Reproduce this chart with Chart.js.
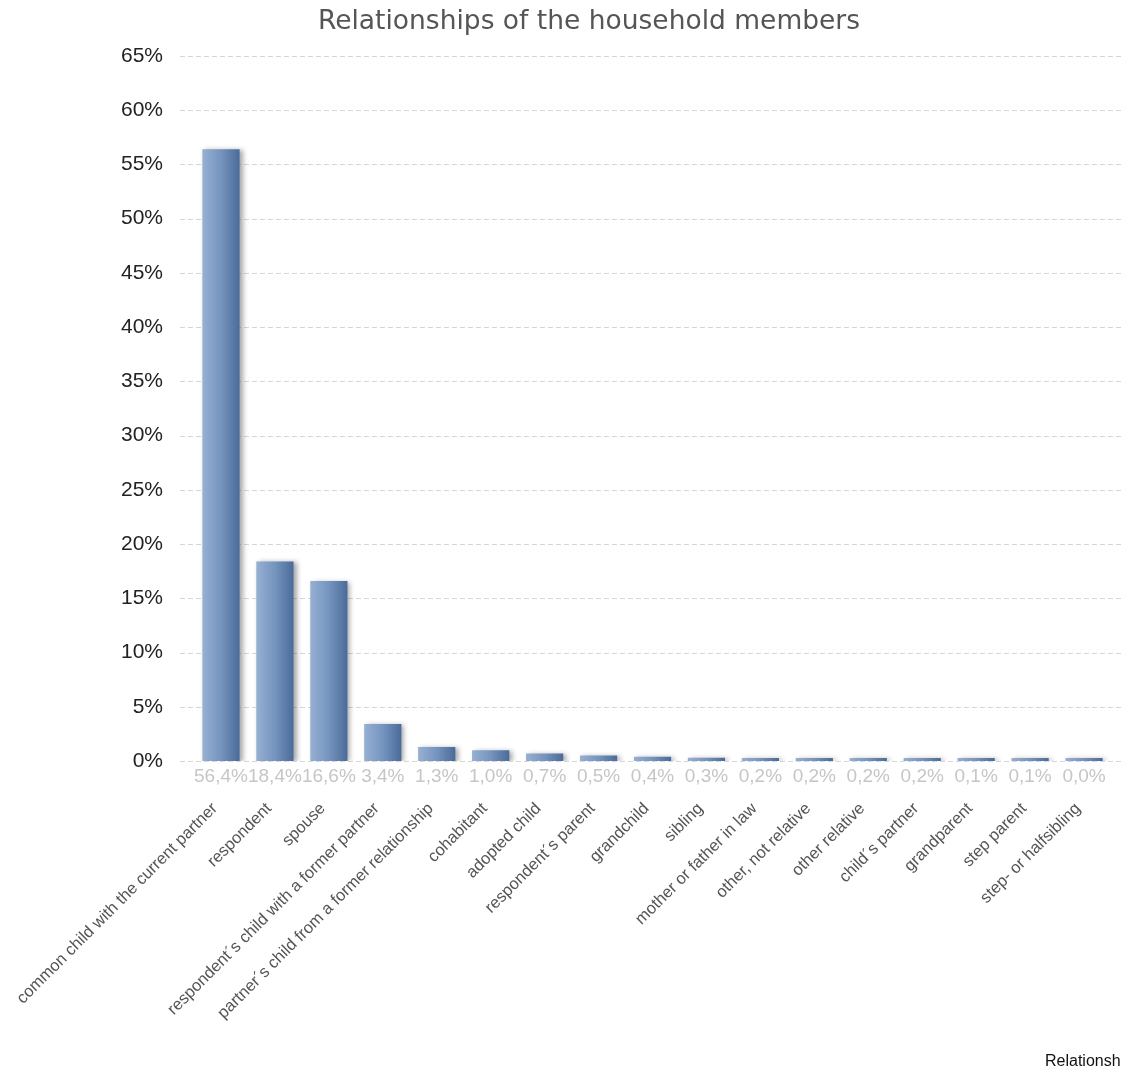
<!DOCTYPE html>
<html>
<head>
<meta charset="utf-8">
<script src="https://cdn.jsdelivr.net/npm/chart.js@4"></script>
<style>
  html, body { margin: 0; padding: 0; background: #ffffff; }
  #wrap { width: 1121px; height: 1073px; position: relative; }
</style>
</head>
<body>
<div id="wrap"><canvas id="chart"></canvas></div>
<script>
// Household member relationships, share of all members (%)
const categories = [
  'common child with the current partner',
  'respondent',
  'spouse',
  'respondent\u00B4s child with a former partner',
  'partner\u00B4s child from a former relationship',
  'cohabitant',
  'adopted child',
  'respondent\u00B4s parent',
  'grandchild',
  'sibling',
  'mother or father in law',
  'other, not relative',
  'other relative',
  'child\u00B4s partner',
  'grandparent',
  'step parent',
  'step- or halfsibling'
];
const shares = [56.4, 18.4, 16.6, 3.4, 1.3, 1.0, 0.7, 0.5, 0.4, 0.3, 0.2, 0.2, 0.2, 0.2, 0.1, 0.1, 0.0];
const yTicks = [0, 5, 10, 15, 20, 25, 30, 35, 40, 45, 50, 55, 60, 65];
const chartTitle = 'Relationships of the household members';
const axisTitle = 'Relationship';

const BAR_PCT = 0.69;

function fmt(v) {
  return v.toFixed(1).replace('.', ',') + '%';
}

// Horizontal blue gradient per bar
function barFill(ctx) {
  const chart = ctx.chart;
  const area = chart.chartArea;
  if (!area) return '#6a88b2';
  const xs = chart.scales.x;
  const xc = xs.getPixelForValue(ctx.dataIndex);
  const w = (area.width / categories.length) * BAR_PCT;
  const g = chart.ctx.createLinearGradient(xc - w / 2, 0, xc + w / 2, 0);
  g.addColorStop(0, '#97b0d3');
  g.addColorStop(0.5, '#7594be');
  g.addColorStop(1, '#4a6b9a');
  return g;
}

// Dashed horizontal grid lines, wider than the plot area
const dashedGrid = {
  id: 'dashedGrid',
  beforeDatasetsDraw(chart) {
    const { ctx } = chart;
    const ys = chart.scales.y;
    ctx.save();
    ctx.strokeStyle = '#d6d6d6';
    ctx.lineWidth = 1;
    ctx.setLineDash([5, 3]);
    yTicks.forEach(t => {
      const y = Math.round(ys.getPixelForValue(t)) + 0.5;
      ctx.beginPath();
      ctx.moveTo(180, y);
      ctx.lineTo(1121, y);
      ctx.stroke();
    });
    ctx.restore();
  }
};

// Soft drop shadow behind the bars
const barShadow = {
  id: 'barShadow',
  beforeDatasetDraw(chart) {
    const c = chart.ctx;
    c.save();
    c.shadowColor = 'rgba(0,0,0,0.35)';
    c.shadowBlur = 5;
    c.shadowOffsetX = 3;
    c.shadowOffsetY = 1;
  },
  afterDatasetDraw(chart) {
    chart.ctx.restore();
  }
};

// Title, value labels under the axis and the axis caption at the bottom right
const extraText = {
  id: 'extraText',
  afterDraw(chart) {
    const { ctx } = chart;
    const xs = chart.scales.x;
    const ys = chart.scales.y;
    ctx.save();
    ctx.font = '26.5px "DejaVu Sans", Verdana, sans-serif';
    ctx.fillStyle = '#555555';
    ctx.textAlign = 'center';
    ctx.textBaseline = 'middle';
    ctx.fillText(chartTitle, 589, 22);

    ctx.font = '19px "Liberation Sans", Arial, sans-serif';
    ctx.fillStyle = '#c6c6c6';
    const y0 = ys.getPixelForValue(0) + 16;
    shares.forEach((v, i) => {
      ctx.fillText(fmt(v), xs.getPixelForValue(i), y0);
    });

    ctx.font = '16px "Liberation Sans", Arial, sans-serif';
    ctx.fillStyle = '#111111';
    ctx.textAlign = 'left';
    ctx.fillText(axisTitle, 1045, 1062);
    ctx.restore();
  }
};

new Chart(document.getElementById('chart'), {
  type: 'bar',
  data: {
    labels: categories,
    datasets: [{
      data: shares,
      backgroundColor: barFill,
      borderWidth: 0,
      barPercentage: BAR_PCT,
      categoryPercentage: 1.0,
      minBarLength: 3
    }]
  },
  options: {
    responsive: true,
    maintainAspectRatio: false,
    animation: false,
    layout: { padding: { left: 0, right: 10, top: 56, bottom: 0 } },
    plugins: {
      legend: { display: false },
      tooltip: { enabled: false },
      title: { display: false }
    },
    scales: {
      x: {
        grid: { display: false, drawTicks: false },
        border: { display: false },
        ticks: {
          color: '#555555',
          font: { family: '"Liberation Sans", Arial, sans-serif', size: 16.5 },
          minRotation: 45,
          maxRotation: 45,
          autoSkip: false,
          padding: 38,
          labelOffset: -6
        },
        afterFit(scale) {
          scale.height = 312;
          scale.paddingLeft = 0;
          scale.paddingRight = 0;
        }
      },
      y: {
        min: 0,
        max: 65,
        grid: { display: false, drawTicks: false },
        border: { display: false },
        afterBuildTicks(scale) { scale.ticks = yTicks.map(v => ({ value: v })); },
        ticks: {
          color: '#222222',
          font: { family: '"Liberation Sans", Arial, sans-serif', size: 21 },
          padding: 31,
          callback: v => v + '%'
        },
        afterFit(scale) {
          scale.width = 194;
          scale.paddingTop = 0;
          scale.paddingBottom = 0;
        }
      }
    }
  },
  plugins: [dashedGrid, barShadow, extraText]
});
</script>
</body>
</html>
